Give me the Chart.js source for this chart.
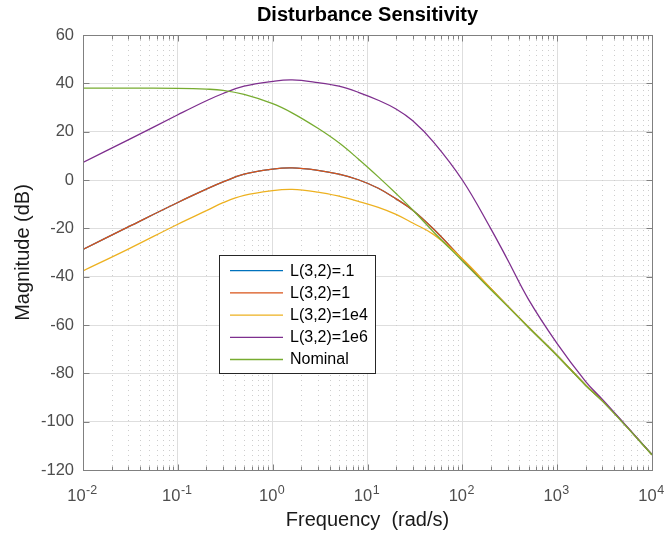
<!DOCTYPE html>
<html>
<head>
<meta charset="utf-8">
<script src="https://cdn.jsdelivr.net/npm/chart.js@4.4.1/dist/chart.umd.min.js"></script>
<style>
  html, body { margin: 0; padding: 0; background: #fff; }
  #wrap { width: 666px; height: 535px; }
</style>
</head>
<body>
<div id="wrap"><canvas id="bodePlot"></canvas></div>
<script>
// frequencies (rad/s) and magnitudes (dB)
const freqs = [0.01, 0.03, 0.1, 0.2, 0.3, 0.5, 1, 1.6, 3, 5, 8, 13, 20, 30, 50, 100, 200, 300, 500, 1000, 2000, 3000, 5000, 10000]
const magL01 = [-28.7, -19.4, -9.3, -3.8, -0.8, 2.4, 4.5, 5.0, 4.0, 2.4, 0.1, -3.4, -7.8, -12.5, -20.4, -32.8, -45.0, -52.1, -60.9, -72.6, -84.9, -91.4, -100.6, -113.7]
const magL1 = [-28.7, -19.4, -9.3, -3.8, -0.8, 2.4, 4.5, 5.0, 4.0, 2.4, 0.1, -3.4, -7.8, -12.5, -20.4, -32.8, -45.0, -52.1, -60.9, -72.6, -84.9, -91.4, -100.6, -113.7]
const magL1e4 = [-37.6, -28.6, -18.3, -12.7, -9.4, -6.4, -4.4, -3.9, -5.0, -6.7, -8.8, -11.3, -14.2, -17.8, -22.6, -32.6, -44.9, -52.1, -60.9, -72.6, -84.9, -91.4, -100.6, -113.7]
const magL1e6 = [7.3, 16.6, 27.0, 32.8, 35.8, 38.8, 40.8, 41.4, 40.3, 38.8, 36.3, 33.0, 29.4, 24.5, 15.6, 0.0, -20.2, -33.0, -49.5, -67.7, -83.4, -90.8, -100.4, -113.6]
const magNominal = [38.0, 38.0, 37.9, 37.6, 37.1, 35.4, 31.6, 27.8, 21.4, 15.4, 8.7, 1.3, -5.6, -12.4, -21.6, -33.5, -45.4, -52.3, -61.0, -72.7, -85.0, -91.5, -100.7, -113.7]

const seriesLabels = ['L(3,2)=.1', 'L(3,2)=1', 'L(3,2)=1e4', 'L(3,2)=1e6', 'Nominal']
const seriesColors = ['#0072BD', '#D95319', '#EDB120', '#7E2F8E', '#77AC30']

// tick labels
const xDecades = [0.01, 0.1, 1, 10, 100, 1000, 10000]
const xExponents = ['-2', '-1', '0', '1', '2', '3', '4']
const yTicks = [-120, -100, -80, -60, -40, -20, 0, 20, 40, 60]

const FONT = '"Liberation Sans", Arial, Helvetica, sans-serif'
const series = [magL01, magL1, magL1e4, magL1e6, magNominal]

const axesDecor = {
    id: 'axesDecor',
    beforeDatasetsDraw(chart) {
        const { ctx, chartArea: a, scales: { x } } = chart
        // dotted minor grid (log x)
        ctx.save()
        ctx.strokeStyle = '#cdcdcd'
        ctx.lineWidth = 1
        ctx.setLineDash([1, 4])
        xDecades.slice(0, -1).forEach(d => {
            for (let k = 2; k < 10; k++) {
                const px = Math.round(x.getPixelForValue(d * k)) + 0.5
                ctx.beginPath()
                ctx.moveTo(px, a.top)
                ctx.lineTo(px, a.bottom)
                ctx.stroke()
            }
        })
        ctx.restore()
    },
    afterDatasetsDraw(chart) {
        const { ctx, chartArea: a, scales: { x, y } } = chart
        const L = Math.round(a.left) + 0.5, R = Math.round(a.right) + 0.5
        const T = Math.round(a.top) + 0.5, B = Math.round(a.bottom) + 0.5
        ctx.save()
        ctx.strokeStyle = '#808080'
        ctx.lineWidth = 1
        ctx.strokeRect(L, T, R - L, B - T)

        ctx.beginPath()
        xDecades.forEach((d, i) => {
            const px = Math.round(x.getPixelForValue(d)) + 0.5
            ctx.moveTo(px, B); ctx.lineTo(px, B - 6)
            ctx.moveTo(px, T); ctx.lineTo(px, T + 6)
            if (i === xDecades.length - 1) return
            for (let k = 2; k < 10; k++) {
                const pm = Math.round(x.getPixelForValue(d * k)) + 0.5
                ctx.moveTo(pm, B); ctx.lineTo(pm, B - 4)
                ctx.moveTo(pm, T); ctx.lineTo(pm, T + 4)
            }
        })
        yTicks.forEach(v => {
            const py = Math.round(y.getPixelForValue(v)) + 0.5
            ctx.moveTo(L, py); ctx.lineTo(L + 6, py)
            ctx.moveTo(R, py); ctx.lineTo(R - 6, py)
        })
        ctx.stroke()

        // legend box
        const lx = 219.5, ly = 255.5, lw = 156, lh = 118, rowH = 22.2
        ctx.fillStyle = '#fff'
        ctx.fillRect(lx, ly, lw, lh)
        ctx.strokeStyle = '#262626'
        ctx.strokeRect(lx, ly, lw, lh)
        ctx.font = '16px ' + FONT
        ctx.textBaseline = 'middle'
        chart.data.datasets.forEach((ds, i) => {
            const ry = 270.7 + i * rowH
            ctx.strokeStyle = ds.borderColor
            ctx.lineWidth = 1.3
            ctx.beginPath()
            ctx.moveTo(230, ry); ctx.lineTo(283, ry)
            ctx.stroke()
            ctx.fillStyle = '#000'
            ctx.fillText(ds.label, 290, ry + 0.5)
        })
        ctx.restore()
    },
    afterDraw(chart) {
        const { ctx, scales: { x } } = chart
        ctx.save()
        ctx.fillStyle = '#4d4d4d'
        ctx.textBaseline = 'alphabetic'
        xDecades.forEach((v, i) => {
            const px = x.getPixelForValue(v)
            ctx.font = '16.5px ' + FONT
            const wb = ctx.measureText('10').width
            ctx.font = '12.5px ' + FONT
            const we = ctx.measureText(xExponents[i]).width
            const left = px - (wb + we) / 2 - 1
            ctx.font = '16.5px ' + FONT
            ctx.fillText('10', left, 501)
            ctx.font = '12.5px ' + FONT
            ctx.fillText(xExponents[i], left + wb + 0.5, 493.5)
        })
        ctx.restore()
    }
}

new Chart(document.getElementById('bodePlot'), {
    type: 'line',
    data: {
        datasets: series.map((vals, i) => ({
            label: seriesLabels[i],
            data: freqs.map((f, j) => ({ x: f, y: vals[j] })),
            borderColor: seriesColors[i],
            backgroundColor: seriesColors[i],
            borderWidth: 1.3,
            pointRadius: 0,
            fill: false,
            tension: 0.4,
            order: series.length - i
        }))
    },
    options: {
        responsive: true,
        maintainAspectRatio: false,
        animation: false,
        events: [],
        layout: { padding: { left: 0, right: 14, top: 0, bottom: 0 } },
        plugins: {
            legend: { display: false },
            tooltip: { enabled: false },
            title: {
                display: true,
                text: 'Disturbance Sensitivity',
                color: '#000',
                font: { family: FONT, size: 20, weight: 'bold' },
                padding: { top: 3, bottom: 8 },
                fullSize: false
            }
        },
        scales: {
            x: {
                type: 'logarithmic',
                min: 0.01,
                max: 10000,
                afterBuildTicks: s => { s.ticks = xDecades.map(v => ({ value: v })) },
                afterFit: s => { s.height = 65 },
                ticks: { display: false },
                grid: { color: '#dedede', drawTicks: false },
                border: { display: false },
                title: {
                    display: true,
                    text: 'Frequency  (rad/s)',
                    color: '#1a1a1a',
                    font: { family: FONT, size: 20 },
                    padding: { top: 0, bottom: 3 }
                }
            },
            y: {
                min: -120,
                max: 60,
                afterBuildTicks: s => { s.ticks = yTicks.map(v => ({ value: v })) },
                afterFit: s => { s.width = 83 },
                ticks: {
                    color: '#4d4d4d',
                    font: { family: FONT, size: 16.5 },
                    padding: 9,
                    callback: v => String(v)
                },
                grid: { color: '#dedede', drawTicks: false },
                border: { display: false },
                title: {
                    display: true,
                    text: 'Magnitude (dB)',
                    color: '#1a1a1a',
                    font: { family: FONT, size: 20 },
                    padding: { top: 11, bottom: 0 }
                }
            }
        }
    },
    plugins: [axesDecor]
})
</script>
</body>
</html>
